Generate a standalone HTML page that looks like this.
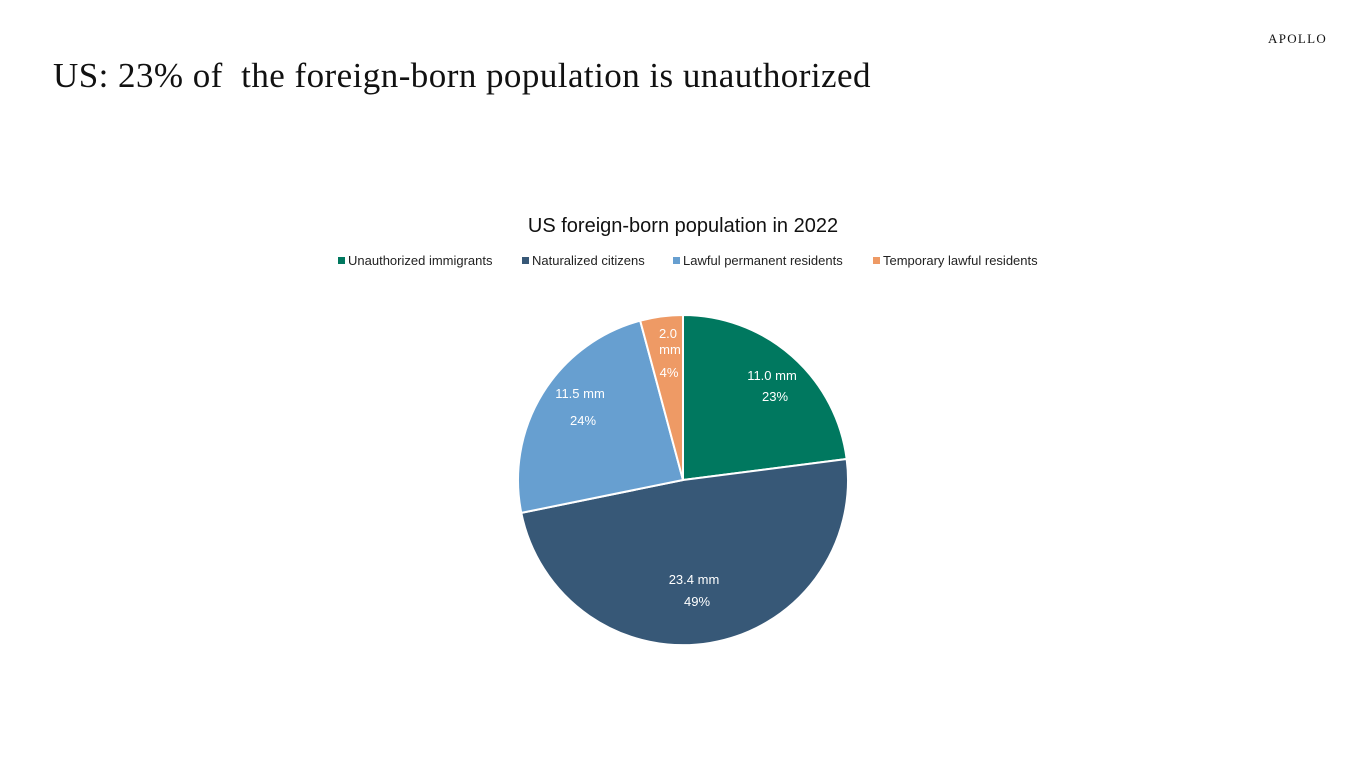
<!DOCTYPE html>
<html><head><meta charset="utf-8"><style>
body{margin:0;width:1366px;height:768px;background:#fff;overflow:hidden;position:relative;font-family:"Liberation Sans",sans-serif}
.t{position:absolute;white-space:nowrap}
</style></head><body>
<div class="t" style="left:53px;top:56px;font-family:'Liberation Serif',serif;font-size:35px;letter-spacing:0.45px;color:#111">US: 23% of&nbsp; the foreign-born population is unauthorized</div>
<div class="t" style="left:1268px;top:31px;font-family:'Liberation Serif',serif;font-size:13px;letter-spacing:1.3px;color:#111">APOLLO</div>
<svg width="1366" height="768" style="position:absolute;left:0;top:0">
<text x="683" y="232" text-anchor="middle" font-size="20" fill="#111" font-family="Liberation Sans, sans-serif">US foreign-born population in 2022</text>
<g font-size="13" fill="#222" font-family="Liberation Sans, sans-serif">
<rect x="338" y="257" width="7" height="7" fill="#00785F"/><text x="348" y="265">Unauthorized immigrants</text>
<rect x="522" y="257" width="7" height="7" fill="#375877"/><text x="532" y="265">Naturalized citizens</text>
<rect x="673" y="257" width="7" height="7" fill="#679FD0"/><text x="683" y="265">Lawful permanent residents</text>
<rect x="873" y="257" width="7" height="7" fill="#EE9A65"/><text x="883" y="265">Temporary lawful residents</text>
</g>
<g stroke="#fff" stroke-width="2" stroke-linejoin="round">
<path d="M683,480 L683,315 A165,165 0 0 1 846.65,458.95 Z" fill="#00785F"/>
<path d="M683,480 L846.65,458.95 A165,165 0 0 1 521.3,512.9 Z" fill="#375877"/>
<path d="M683,480 L521.3,512.9 A165,165 0 0 1 640.2,320.7 Z" fill="#679FD0"/>
<path d="M683,480 L640.2,320.7 A165,165 0 0 1 683,315 Z" fill="#EE9A65"/>
</g>
<g font-size="13" fill="#fff" text-anchor="middle" font-family="Liberation Sans, sans-serif">
<text x="772" y="380">11.0 mm</text><text x="775" y="401">23%</text>
<text x="694" y="584">23.4 mm</text><text x="697" y="606">49%</text>
<text x="580" y="398">11.5 mm</text><text x="583" y="425">24%</text>
<text x="668" y="338">2.0</text><text x="670" y="354">mm</text><text x="669" y="377">4%</text>
</g>
</svg>
</body></html>
